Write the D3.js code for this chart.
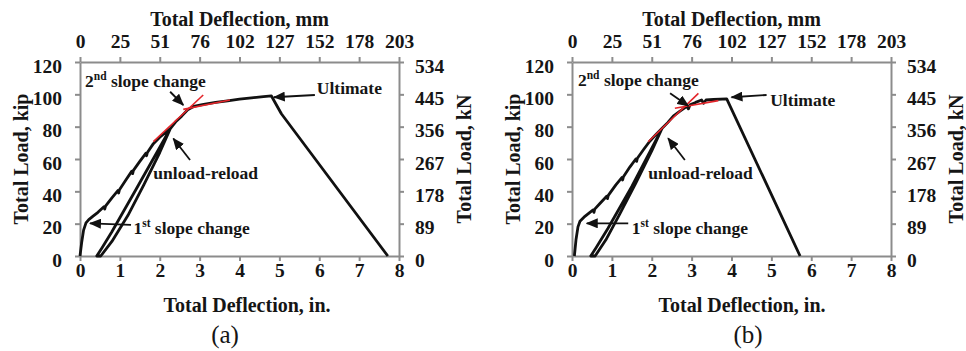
<!DOCTYPE html>
<html lang="en">
<head>
<meta charset="UTF-8">
<title>Total Load vs Total Deflection</title>
<style>
body { margin: 0; background: #fff; }
svg text {
    font-family: "Liberation Serif", "Times New Roman", serif;
    font-weight: bold;
    fill: #151515;
}
.axis path, .axis line { stroke: #8c8c8c; stroke-width: 2; }
.axis text { font-size: 19.5px; }
</style>
</head>
<body>
<svg id="chart" width="966" height="351"></svg>
<script src="https://d3js.org/d3.v7.min.js"></script>
<script>
// tick values / labels
var inTicks = [0, 1, 2, 3, 4, 5, 6, 7, 8];
var mmLabels = ["0", "25", "51", "76", "102", "127", "152", "178", "203"];
var kipTicks = [0, 20, 40, 60, 80, 100, 120];
var kNLabels = ["0", "89", "178", "267", "356", "445", "534"];

// (a) load-deflection record [in, kip]
var curveA = [
    [0, 0], [0.04, 8], [0.09, 16], [0.15, 20.5], [0.22, 22.5], [0.32, 24.5], [0.45, 27],
    [0.6, 30.5], [0.62, 29], [0.64, 30.8], [0.8, 36], [0.95, 40.5], [0.97, 39], [0.99, 41],
    [1.15, 47], [1.3, 52.5], [1.32, 51], [1.34, 53], [1.5, 58.5], [1.65, 63.5], [1.67, 62],
    [1.69, 64], [1.84, 69.5], [2.0, 73.5], [2.15, 76.5], [2.27, 79],
    // unload / reload
    [2.0, 64], [1.6, 44], [1.2, 25], [0.8, 9], [0.52, 0],
    [0.42, 0], [0.55, 5], [0.8, 15], [1.4, 41], [2.27, 79],
    [2.4, 83], [2.55, 86.5], [2.7, 90.5], [2.85, 92.5], [3.1, 93.8], [3.4, 95], [3.7, 96],
    [4.0, 97], [4.3, 97.8], [4.6, 98.6], [4.8, 99], [5.05, 88], [7.72, 0]
];
// (b) load-deflection record [in, kip]
var curveB = [
    [0.06, 0], [0.1, 10], [0.15, 18], [0.2, 21.5], [0.3, 24], [0.45, 27], [0.53, 28.5],
    [0.55, 27], [0.57, 29], [0.7, 32.5], [0.87, 37], [0.89, 35.5], [0.91, 37.5], [1.1, 44],
    [1.25, 48.5], [1.27, 47], [1.29, 49], [1.45, 55], [1.6, 60], [1.62, 58.5], [1.64, 60.5],
    [1.8, 66], [1.95, 71], [2.1, 75], [2.26, 79],
    // unload / reload
    [2.0, 65], [1.6, 45], [1.2, 26], [0.85, 10], [0.58, 0],
    [0.47, 0], [0.6, 5], [0.9, 17], [1.5, 43], [2.26, 79],
    [2.4, 82.5], [2.54, 86.5], [2.7, 89.5], [2.88, 92.5], [2.92, 91], [2.96, 93.5], [3.1, 95],
    [3.25, 96.5], [3.3, 94.5], [3.36, 96.5], [3.55, 96.8], [3.88, 97.2], [5.72, 0]
];

// red tangent lines
var tangentsA = [[[1.84, 70.7], [3.09, 99.6]], [[2.59, 90.7], [3.76, 96.5]]];
var tangentsB = [[[1.91, 70.7], [3.17, 100.6]], [[2.58, 91.4], [3.67, 96.1]]];

// annotations: text anchor [in, kip], arrow tail -> head [in, kip]
var notesA = [
    { sup: ["2", "nd", " slope change"], at: [0.125, 104.5], from: [2.26, 101.6], to: [2.59, 93.4] },
    { sup: ["Ultimate", "", ""], at: [5.94, 100.2], from: [5.89, 99.6], to: [4.86, 98.2] },
    { sup: ["unload-reload", "", ""], at: [1.84, 47.6], from: [2.76, 59.4], to: [2.34, 72.7] },
    { sup: ["1", "st", " slope change"], at: [1.34, 13.6], from: [1.28, 19.2], to: [0.25, 20.2] }
];
var notesB = [
    { sup: ["2", "nd", " slope change"], at: [0.15, 105.2], from: [2.46, 100.6], to: [2.92, 92.8] },
    { sup: ["Ultimate", "", ""], at: [4.97, 92.8], from: [4.88, 99.6], to: [4.0, 98.2] },
    { sup: ["unload-reload", "", ""], at: [1.91, 47.6], from: [2.83, 59.4], to: [2.41, 72.8] },
    { sup: ["1", "st", " slope change"], at: [1.5, 13.6], from: [1.41, 20.2], to: [0.37, 20.2] }
];

var svg = d3.select("#chart");

svg.append("defs").append("marker")
    .attr("id", "arrow")
    .attr("markerUnits", "userSpaceOnUse")
    .attr("markerWidth", 12).attr("markerHeight", 10)
    .attr("refX", 11).attr("refY", 5)
    .attr("orient", "auto")
    .append("path")
    .attr("d", "M0,0 L12,5 L0,10 Z")
    .attr("fill", "#111");

var panels = [
    { left: 80, label: "(a)", labelX: 225, titleX: 247, curve: curveA, red: tangentsA, notes: notesA },
    { left: 572, label: "(b)", labelX: 748, titleX: 742, curve: curveB, red: tangentsB, notes: notesB }
];
var pw = 319, plotTop = 62, plotBottom = 256;

panels.forEach(function(p) {
    var x = d3.scaleLinear().domain([0, 8]).range([p.left, p.left + pw]);
    var y = d3.scaleLinear().domain([0, 120]).range([plotBottom, plotTop]);
    var g = svg.append("g");

    // axes
    g.append("g").attr("class", "axis")
        .attr("transform", "translate(0," + plotBottom + ")")
        .call(d3.axisBottom(x).tickValues(inTicks).tickSize(5).tickSizeOuter(0).tickPadding(2.5)
            .tickFormat(d3.format("d")));
    g.append("g").attr("class", "axis")
        .attr("transform", "translate(0," + plotTop + ")")
        .call(d3.axisTop(x).tickValues(inTicks).tickSize(5).tickSizeOuter(0).tickPadding(9)
            .tickFormat(function(d, i) { return mmLabels[i]; }));
    g.append("g").attr("class", "axis")
        .attr("transform", "translate(" + p.left + ",0)")
        .call(d3.axisLeft(y).tickValues(kipTicks).tickSize(5).tickSizeOuter(0).tickPadding(13))
        .selectAll("text").attr("dy", "0.52em");
    g.append("g").attr("class", "axis")
        .attr("transform", "translate(" + (p.left + pw) + ",0)")
        .call(d3.axisRight(y).tickValues(kipTicks).tickSize(5).tickSizeOuter(0).tickPadding(11)
            .tickFormat(function(d, i) { return kNLabels[i]; }))
        .selectAll("text").attr("dy", "0.52em");
    g.selectAll(".axis path").attr("fill", "none");

    // axis titles
    g.append("text").attr("x", p.left + pw / 2).attr("y", 26)
        .attr("text-anchor", "middle").style("font-size", "20px").text("Total Deflection, mm");
    g.append("text").attr("x", p.titleX).attr("y", 312)
        .attr("text-anchor", "middle").style("font-size", "20px").text("Total Deflection, in.");
    g.append("text").attr("transform", "translate(" + (p.left - 52) + ",159) rotate(-90)")
        .attr("text-anchor", "middle").style("font-size", "20px").text("Total Load, kip");
    g.append("text").attr("transform", "translate(" + (p.left + pw + 72) + ",159) rotate(-90)")
        .attr("text-anchor", "middle").style("font-size", "20px").text("Total Load, kN");
    g.append("text").attr("x", p.labelX).attr("y", 343)
        .attr("text-anchor", "middle").style("font-size", "25px").style("font-weight", "normal")
        .text(p.label);

    // curve
    var line = d3.line().x(function(d) { return x(d[0]); }).y(function(d) { return y(d[1]); });
    g.append("path").attr("d", line(p.curve))
        .attr("fill", "none").attr("stroke", "#111").attr("stroke-width", 2.8)
        .attr("stroke-linejoin", "round");

    // tangents
    g.selectAll(".tan").data(p.red).enter().append("path")
        .attr("d", function(d) { return line(d); })
        .attr("stroke", "#e3262b").attr("stroke-width", 1.6).attr("fill", "none");

    // annotations
    p.notes.forEach(function(n) {
        g.append("line")
            .attr("x1", x(n.from[0])).attr("y1", y(n.from[1]))
            .attr("x2", x(n.to[0])).attr("y2", y(n.to[1]))
            .attr("stroke", "#111").attr("stroke-width", 1.8)
            .attr("marker-end", "url(#arrow)");
        var t = g.append("text").attr("x", x(n.at[0])).attr("y", y(n.at[1]))
            .style("font-size", "17.5px");
        t.append("tspan").text(n.sup[0]);
        if (n.sup[1]) {
            t.append("tspan").attr("dy", -7).style("font-size", "11.5px").text(n.sup[1]);
            t.append("tspan").attr("dy", 7).text(n.sup[2]);
        }
    });
});
</script>
</body>
</html>
